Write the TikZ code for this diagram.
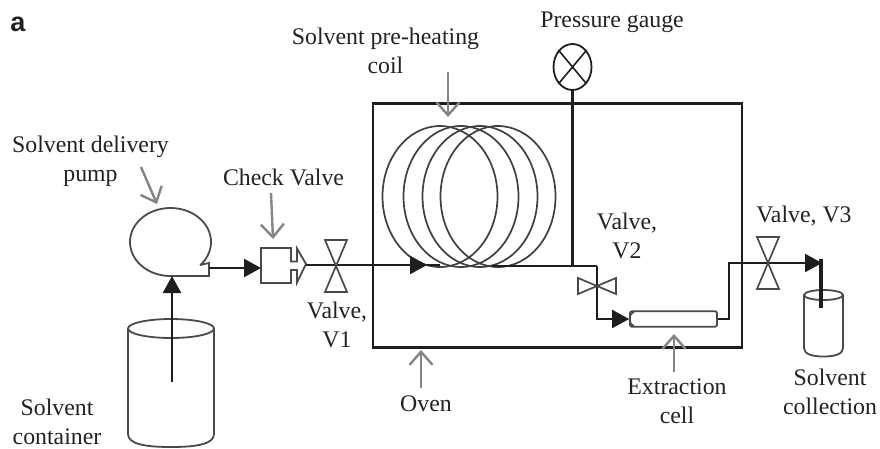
\documentclass[tikz,border=0pt]{standalone}
\usepackage{fontspec}
\setmainfont{Liberation Serif}
\newfontfamily\panelfont{Liberation Sans}
\usetikzlibrary{arrows.meta,shapes.geometric}
\definecolor{ink}{HTML}{1E1E1E}
\definecolor{txt}{HTML}{222222}
\definecolor{pointer}{HTML}{858585}
\definecolor{vessel}{HTML}{4A4A4A}
\tikzset{
  lbl/.style={anchor=base,inner sep=0pt,align=center,text=txt,font=\fontsize{23.8}{29}\selectfont},
  pipe/.style={draw=ink,line width=2.3pt},
  flow/.style={pipe,-{Triangle[length=17pt,width=18pt]}},
  pointerarrow/.style={draw=pointer,line width=2.4pt,-{Straight Barb[length=13pt,width=23pt,line width=2.4pt]}},
  valve/.style={draw=vessel,line width=1.7pt,line join=miter},
  vessel/.style={draw=vessel,line width=1.8pt},
  coil/.style={draw=ink!85,line width=1.7pt}
}
\begin{document}
\begin{tikzpicture}[x=1pt,y=-1pt]
\useasboundingbox[fill=white] (0,0) rectangle (880,448);

% reference points
\coordinate (v1) at (336,265);
\coordinate (v2) at (597,286);
\coordinate (v3) at (768,263);
\coordinate (v3tip) at (822,263);
\coordinate (coilIn) at (427,265);
\coordinate (coilOut) at (492,266);
\coordinate (tee) at (572.5,266);
\coordinate (elbowA) at (597,266);
\coordinate (elbowB) at (597,319);
\coordinate (elbowC) at (729,319);
\coordinate (elbowD) at (729,263);
\coordinate (dropTop) at (821,259);
\coordinate (dropEnd) at (821,308);
\coordinate (pumpOut) at (209,268);
\coordinate (pumpIn) at (172,276);
\coordinate (dip) at (172,382);
\coordinate (chkIn) at (261,268);
\coordinate (chkOut) at (306,265);

% oven
\node[draw=ink,line width=2.4pt,minimum width=369pt,minimum height=244pt,inner sep=0pt] (oven) at (557.5,225.5) {};

% coil
\foreach \cx in {440,461,480,498}
  \draw[coil] (\cx,196.5) ellipse [x radius=57.5,y radius=70.5];

% gauge
\node[draw=ink,line width=1.8pt,ellipse,minimum width=38pt,minimum height=46pt,inner sep=0pt] (gauge) at (572.5,67) {};
\draw[draw=ink,line width=1.6pt] (gauge.north west) -- (gauge.south east) (gauge.north east) -- (gauge.south west);

% pump
\draw[vessel] plot[domain=43:-270,samples=80,smooth] ({170.5+40.5*cos(\x)},{242+34*sin(\x)})
  -- (209,276) -- (209,263) -- (200,265);

% container
\draw[vessel] (171,328.5) ellipse [x radius=43,y radius=9.5];
\draw[vessel] (128,328.5) -- (128,434) .. controls (128,444) and (145,447) .. (171,447) .. controls (197,447) and (214,444) .. (214,434) -- (214,328.5);

% collection vessel
\draw[vessel] (823.5,295) ellipse [x radius=19.5,y radius=5];
\draw[vessel] (804,295) -- (804,348) .. controls (804,354) and (812,356.5) .. (823.5,356.5) .. controls (835,356.5) and (843,354) .. (843,348) -- (843,295);

% check valve
\draw[vessel] (291,270) -- (291,283) -- (261,283) -- (261,248) -- (291,248) -- (291,261.5) -- (297,261.5) -- (297,248.5) -- (306,264) -- (297,282.5) -- (297,270) -- cycle;

% extraction cell
\node[draw=vessel,line width=1.8pt,rounded corners=2pt,minimum width=87pt,minimum height=15.5pt,inner sep=0pt] (cell) at (673.5,319) {};
\draw[vessel] (634,311.5) .. controls (628,314) and (628,324) .. (634,326.5);

% pipes
\draw[flow] (dip) -- (pumpIn);
\draw[flow] (pumpOut) -- (chkIn);
\draw[flow] (chkOut) -- (coilIn);
\draw[pipe] (coilIn) -- (440,265);
\draw[pipe] (coilOut) -- (elbowA);
\draw[draw=ink,line width=3.2pt] (tee) -- (gauge.south);
\draw[flow] (elbowA) -- (elbowB) -- (cell.west);
\draw[pipe] (cell.east) -- (elbowC) -- (elbowD) -- (v3);
\draw[flow] (v3) -- (v3tip);
\draw[draw=ink,line width=4.2pt] (dropTop) -- (dropEnd);

% valves
\draw[valve] ([shift={(-11,-25)}]v1) -- ([shift={(11,-25)}]v1) -- ([shift={(-11,27)}]v1) -- ([shift={(11,27)}]v1) -- cycle;
\draw[valve] ([shift={(-19,-8)}]v2) -- ([shift={(19,8)}]v2) -- ([shift={(19,-8)}]v2) -- ([shift={(-19,8)}]v2) -- cycle;
\draw[valve] ([shift={(-11,-26)}]v3) -- ([shift={(11,-26)}]v3) -- ([shift={(-11,26)}]v3) -- ([shift={(11,26)}]v3) -- cycle;

% labels
\node[anchor=base,inner sep=0pt,text=txt,font=\panelfont\bfseries\fontsize{27}{30}\selectfont] (panel) at (18,31) {a};
\node[lbl] (lpump) at (90.5,181) {Solvent delivery\\pump};
\node[lbl] (lcheck) at (283.5,185) {Check Valve};
\node[lbl] (lcoil) at (385.5,73) {Solvent pre-heating\\coil};
\node[lbl] (lgauge) at (612,27) {Pressure gauge};
\node[lbl] (lv1) at (337,347) {Valve,\\V1};
\node[lbl] (lv2) at (627,258) {Valve,\\V2};
\node[lbl] (lv3) at (804,222) {Valve, V3};
\node[lbl] (loven) at (426,411) {Oven};
\node[lbl] (lcell) at (677,423) {Extraction\\cell};
\node[lbl] (lcoll) at (830,414) {Solvent\\collection};
\node[lbl] (lcont) at (57,444) {Solvent\\container};

% pointers
\coordinate (pPumpA) at (141,167); \coordinate (pPumpB) at (157,204);
\coordinate (pChkA) at (271,193); \coordinate (pChkB) at (273,239);
\coordinate (pCoilA) at (448,72); \coordinate (pCoilB) at (448,117);
\coordinate (pOvenA) at (421,388); \coordinate (pOvenB) at (421,350);
\coordinate (pCellA) at (674,372); \coordinate (pCellB) at (674,334);
\foreach \a/\b in {pPumpA/pPumpB,pChkA/pChkB,pCoilA/pCoilB,pOvenA/pOvenB,pCellA/pCellB}
  \draw[pointerarrow] (\a) -- (\b);
\end{tikzpicture}
\end{document}
